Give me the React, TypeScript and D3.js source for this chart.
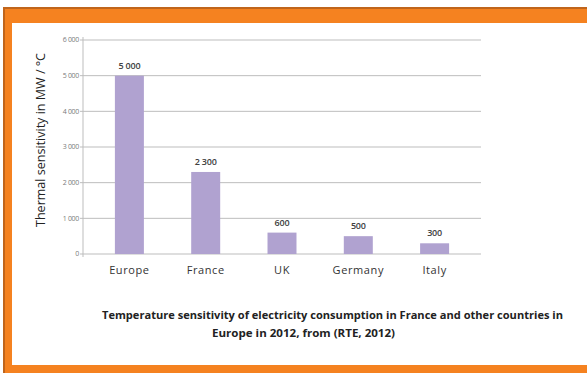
import React from "react";
import * as d3 from "d3";

const categories = ["Europe", "France", "UK", "Germany", "Italy"];
const values = [5000, 2300, 600, 500, 300];
const valueLabels = ["5 000", "2 300", "600", "500", "300"];
const yTicks = [0, 1000, 2000, 3000, 4000, 5000, 6000];
const yTickLabels = ["0", "1 000", "2 000", "3 000", "4 000", "5 000", "6 000"];
const yTitle = "Thermal sensitivity in MW / °C";
const captionLines = [
  "Temperature sensitivity of electricity consumption in France and other countries in",
  "Europe in 2012, from (RTE, 2012)",
];

const W = 587;
const H = 373;
const FONT = "'Open Sans', 'Liberation Sans', sans-serif";

export default function App() {
  const x = d3
    .scaleBand<string>()
    .domain(categories)
    .range([83, 481])
    .paddingInner(0.62)
    .paddingOuter(0.418);
  const y = d3.scaleLinear().domain([0, 6000]).range([254, 40]);

  return (
    <svg
      width={W}
      height={H}
      style={{ position: "absolute", left: 0, top: 0, display: "block" }}
      fontFamily={FONT}
    >
      <rect x={0} y={0} width={W} height={H} fill="#ffffff" />
      {/* frame */}
      <rect x={3} y={7} width={W - 3} height={H - 7} fill="#f58220" />
      <rect x={3} y={7} width={W - 3} height={2} fill="#c0651c" />
      <rect x={3} y={7} width={2} height={H - 7} fill="#c0651c" />
      <rect x={12} y={23} width={W - 12} height={342} fill="#ffffff" />

      {/* gridlines */}
      {yTicks.map((t) => (
        <line
          key={t}
          x1={80}
          x2={481}
          y1={y(t)}
          y2={y(t)}
          stroke="#bdbdbd"
          strokeWidth={1}
        />
      ))}
      <line x1={83} x2={83} y1={y(6000) - 3} y2={y(0) + 3} stroke="#bdbdbd" strokeWidth={1} />
      {yTicks.map((t, i) => (
        <text
          key={t}
          x={79}
          y={y(t)}
          dy="0.35em"
          textAnchor="end"
          fontSize={7}
          fill="#7a7a7a"
          letterSpacing={-0.3}
        >
          {yTickLabels[i]}
        </text>
      ))}

      {/* bars */}
      {categories.map((c, i) => (
        <rect
          key={c}
          x={x(c)}
          y={y(values[i])}
          width={x.bandwidth()}
          height={y(0) - y(values[i])}
          fill="#b0a2d0"
        />
      ))}
      {categories.map((c, i) => (
        <text
          key={c}
          x={(x(c) as number) + x.bandwidth() / 2}
          y={y(values[i]) - 7}
          textAnchor="middle"
          fontSize={9}
          fontWeight={600}
          fill="#404040"
          letterSpacing={-0.2}
        >
          {valueLabels[i]}
        </text>
      ))}
      {categories.map((c) => (
        <text
          key={c}
          x={(x(c) as number) + x.bandwidth() / 2}
          y={274}
          textAnchor="middle"
          fontSize={11}
          fill="#333333"
          letterSpacing={0.6}
        >
          {c}
        </text>
      ))}

      {/* y title */}
      <text
        transform="translate(45,140) rotate(-90)"
        textAnchor="middle"
        fontSize={12}
        fill="#222222"
        textLength={174}
        lengthAdjust="spacingAndGlyphs"
      >
        {yTitle}
      </text>

      {/* caption */}
      <text x={102} y={319} fontSize={11} fontWeight={700} fill="#222222" textLength={461} lengthAdjust="spacingAndGlyphs">
        {captionLines[0]}
      </text>
      <text x={212} y={337} fontSize={11} fontWeight={700} fill="#222222" textLength={183} lengthAdjust="spacingAndGlyphs">
        {captionLines[1]}
      </text>
    </svg>
  );
}
